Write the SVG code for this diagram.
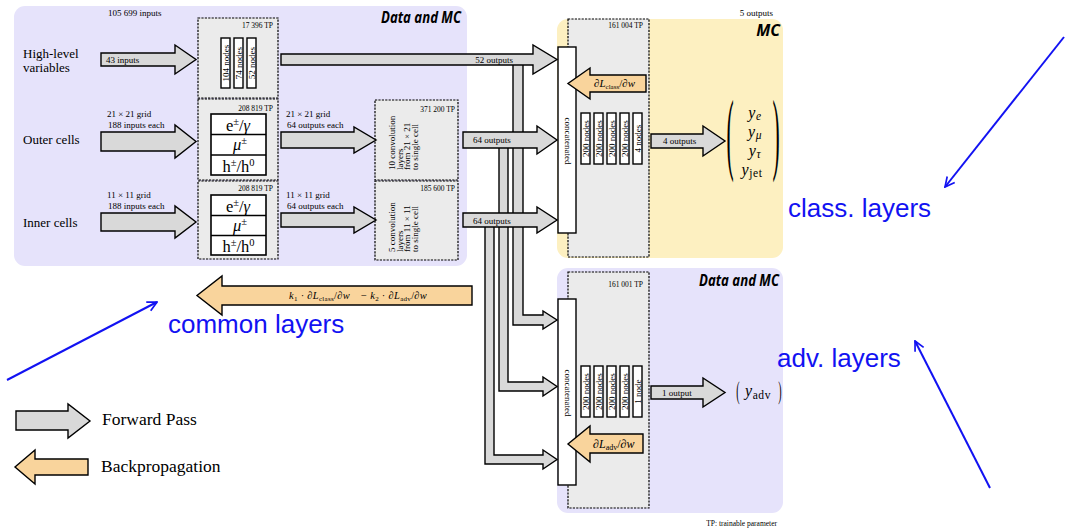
<svg xmlns="http://www.w3.org/2000/svg" width="1065" height="528" viewBox="0 0 1065 528">
<defs>
<style>
.lav{fill:#e6e3fb}
.yel{fill:#fdf0c1}
.box{fill:#ebebeb;stroke:#000;stroke-width:1.2;stroke-dasharray:2.2 1.2}
.fwd{fill:#d9d9d9;stroke:#000;stroke-width:1.4;stroke-linejoin:miter}
.bwd{fill:#f9d49c;stroke:#000;stroke-width:1.4;stroke-linejoin:miter}
.node{fill:#fff;stroke:#000;stroke-width:1.4}
.cell{fill:#fff;stroke:#000;stroke-width:1.6}
text{font-family:"Liberation Serif","DejaVu Serif",serif;fill:#000}
.xs{font-size:7.5px}
.sm{font-size:9px}
.nt{font-size:9px}
.lbl{font-size:13px}
.leg{font-size:17.5px}
.it{font-style:italic}
.cm{font-size:16.5px}
.vec{font-size:16px;letter-spacing:0.6px}
.title{font-family:"Open Sans","DejaVu Sans",sans-serif;font-weight:bold;font-style:italic;font-size:16px}
.note{fill:none;stroke:#1212f2;stroke-width:2}
.notet{font-family:"Liberation Sans",Arial,sans-serif;font-size:26px;fill:#1212f2}
</style>
<marker id="open" viewBox="0 0 10 10" refX="9" refY="5" markerWidth="6" markerHeight="6" orient="auto" markerUnits="strokeWidth">
<path d="M1,1 L9,5 L1,9" fill="none" stroke="#1212f2" stroke-width="1.4"/>
</marker>
</defs>

<rect width="1065" height="528" fill="#fff"/>

<!-- background panels -->
<g id="panel-common">
<rect class="lav" x="14" y="6" width="453" height="260" rx="11"/>
<text class="title" x="461" y="23" text-anchor="end" textLength="80" lengthAdjust="spacingAndGlyphs">Data and MC</text>
<text class="sm" x="108" y="16">105 699 inputs</text>
</g>
<g id="panel-class">
<rect class="yel" x="557" y="19" width="226" height="239" rx="11"/>
<text class="title" x="780" y="36" text-anchor="end">MC</text>
<text class="sm" x="773" y="16" text-anchor="end">5 outputs</text>
</g>
<g id="panel-adv">
<rect class="lav" x="557" y="268" width="226" height="245" rx="11"/>
<text class="title" x="779" y="286" text-anchor="end" textLength="80" lengthAdjust="spacingAndGlyphs">Data and MC</text>
</g>
<text class="xs" x="777" y="526" text-anchor="end">TP: trainable parameter</text>

<!-- input labels -->
<g id="labels">
<text class="lbl" x="23" y="58">High-level</text>
<text class="lbl" x="23" y="72">variables</text>
<text class="lbl" x="23" y="144">Outer cells</text>
<text class="lbl" x="23" y="227">Inner cells</text>
<text class="sm" x="107" y="117">21 × 21 grid</text>
<text class="sm" x="108" y="128">188 inputs each</text>
<text class="sm" x="107" y="198">11 × 11 grid</text>
<text class="sm" x="108" y="209">188 inputs each</text>
<text class="sm" x="286" y="117">21 × 21 grid</text>
<text class="sm" x="287" y="128">64 outputs each</text>
<text class="sm" x="286" y="198">11 × 11 grid</text>
<text class="sm" x="287" y="209">64 outputs each</text>
</g>

<!-- high-level dense block -->
<g id="dense-hl">
<rect class="box" x="198" y="18" width="80" height="80"/>
<text class="xs" x="273" y="28" text-anchor="end">17 396 TP</text>
<rect class="node" x="221" y="38" width="9" height="50"/>
<rect class="node" x="234" y="38" width="9" height="50"/>
<rect class="node" x="247" y="38" width="9" height="50"/>
<text class="nt" transform="translate(228.6,63) rotate(-90)" text-anchor="middle">104 nodes</text>
<text class="nt" transform="translate(241.6,63) rotate(-90)" text-anchor="middle">74 nodes</text>
<text class="nt" transform="translate(254.6,63) rotate(-90)" text-anchor="middle">52 nodes</text>
</g>

<!-- outer cells per-particle dense block -->
<g id="dense-outer">
<rect class="box" x="198" y="99" width="80" height="81"/>
<text class="xs" x="273" y="111" text-anchor="end">208 819 TP</text>
<rect class="cell" x="211" y="114" width="55" height="61"/>
<line x1="211" y1="134.5" x2="266" y2="134.5" stroke="#000" stroke-width="1.6"/>
<line x1="211" y1="155" x2="266" y2="155" stroke="#000" stroke-width="1.6"/>
<text class="cm" x="238" y="130.5" text-anchor="middle">e<tspan font-size="10.5" dy="-6">±</tspan><tspan dy="6">/</tspan><tspan class="it">γ</tspan></text>
<text class="cm" x="240" y="150" text-anchor="middle"><tspan class="it">μ</tspan><tspan font-size="10.5" dy="-6">±</tspan></text>
<text class="cm" x="238.5" y="171.5" text-anchor="middle">h<tspan font-size="10.5" dy="-6">±</tspan><tspan dy="6">/h</tspan><tspan font-size="10.5" dy="-6">0</tspan></text>
</g>

<!-- inner cells per-particle dense block -->
<g id="dense-inner">
<rect class="box" x="198" y="181" width="80" height="78"/>
<text class="xs" x="273" y="191" text-anchor="end">208 819 TP</text>
<rect class="cell" x="211" y="195" width="55" height="60"/>
<line x1="211" y1="215.5" x2="266" y2="215.5" stroke="#000" stroke-width="1.6"/>
<line x1="211" y1="235.5" x2="266" y2="235.5" stroke="#000" stroke-width="1.6"/>
<text class="cm" x="238" y="211.5" text-anchor="middle">e<tspan font-size="10.5" dy="-6">±</tspan><tspan dy="6">/</tspan><tspan class="it">γ</tspan></text>
<text class="cm" x="240" y="231" text-anchor="middle"><tspan class="it">μ</tspan><tspan font-size="10.5" dy="-6">±</tspan></text>
<text class="cm" x="238.5" y="251.5" text-anchor="middle">h<tspan font-size="10.5" dy="-6">±</tspan><tspan dy="6">/h</tspan><tspan font-size="10.5" dy="-6">0</tspan></text>
</g>

<!-- convolution blocks -->
<g id="conv-outer">
<rect class="box" x="375" y="100" width="83" height="80"/>
<text class="xs" x="455" y="112" text-anchor="end">371 200 TP</text>
<text class="sm" transform="translate(395,170) rotate(-90)">10 convolution</text>
<text class="sm" transform="translate(402.5,170) rotate(-90)">layers</text>
<text class="sm" transform="translate(410,170) rotate(-90)">from  21 × 21</text>
<text class="sm" transform="translate(417.5,170) rotate(-90)">to single cell</text>
</g>
<g id="conv-inner">
<rect class="box" x="375" y="181" width="83" height="79"/>
<text class="xs" x="455" y="191" text-anchor="end">185 600 TP</text>
<text class="sm" transform="translate(395,252) rotate(-90)">5 convolution</text>
<text class="sm" transform="translate(402.5,252) rotate(-90)">layers</text>
<text class="sm" transform="translate(410,252) rotate(-90)">from  11 × 11</text>
<text class="sm" transform="translate(417.5,252) rotate(-90)">to single cell</text>
</g>

<!-- classifier head -->
<g id="class-net">
<rect class="box" x="568" y="19" width="81" height="238"/>
<text class="xs" x="643" y="28" text-anchor="end">161 004 TP</text>
<rect class="node" x="558" y="47" width="18" height="186"/>
<text class="nt" transform="translate(564.5,141) rotate(90)" text-anchor="middle">concatenated</text>
<rect class="node" x="581" y="113" width="9" height="51"/>
<rect class="node" x="594" y="113" width="9" height="51"/>
<rect class="node" x="607" y="113" width="9" height="51"/>
<rect class="node" x="620" y="113" width="9" height="51"/>
<rect class="node" x="633" y="113" width="9" height="51"/>
<text class="nt" transform="translate(588.6,138.5) rotate(-90)" text-anchor="middle">200 nodes</text>
<text class="nt" transform="translate(601.6,138.5) rotate(-90)" text-anchor="middle">200 nodes</text>
<text class="nt" transform="translate(614.6,138.5) rotate(-90)" text-anchor="middle">200 nodes</text>
<text class="nt" transform="translate(627.6,138.5) rotate(-90)" text-anchor="middle">200 nodes</text>
<text class="nt" transform="translate(640.6,138.5) rotate(-90)" text-anchor="middle">4 nodes</text>
</g>

<!-- adversary head -->
<g id="adv-net">
<rect class="box" x="568" y="272" width="81" height="236"/>
<text class="xs" x="643" y="287" text-anchor="end">161 001 TP</text>
<rect class="node" x="558" y="299" width="18" height="186"/>
<text class="nt" transform="translate(564.5,393) rotate(90)" text-anchor="middle">concatenated</text>
<rect class="node" x="581" y="366" width="9" height="51"/>
<rect class="node" x="594" y="366" width="9" height="51"/>
<rect class="node" x="607" y="366" width="9" height="51"/>
<rect class="node" x="620" y="366" width="9" height="51"/>
<rect class="node" x="633" y="366" width="9" height="51"/>
<text class="nt" transform="translate(588.6,391.5) rotate(-90)" text-anchor="middle">200 nodes</text>
<text class="nt" transform="translate(601.6,391.5) rotate(-90)" text-anchor="middle">200 nodes</text>
<text class="nt" transform="translate(614.6,391.5) rotate(-90)" text-anchor="middle">200 nodes</text>
<text class="nt" transform="translate(627.6,391.5) rotate(-90)" text-anchor="middle">200 nodes</text>
<text class="nt" transform="translate(640.6,391.5) rotate(-90)" text-anchor="middle">1 node</text>
</g>

<!-- outputs -->
<g id="class-output">
<text transform="translate(730,163) scale(0.24,1)" text-anchor="middle" font-size="90">(</text>
<text transform="translate(776,163) scale(0.24,1)" text-anchor="middle" font-size="90">)</text>
<text class="vec" x="755" y="118" text-anchor="middle"><tspan class="it">y</tspan><tspan class="it" font-size="11.5" dy="2">e</tspan></text>
<text class="vec" x="755" y="137" text-anchor="middle"><tspan class="it">y</tspan><tspan class="it" font-size="11.5" dy="2">μ</tspan></text>
<text class="vec" x="755" y="156" text-anchor="middle"><tspan class="it">y</tspan><tspan class="it" font-size="11.5" dy="2">τ</tspan></text>
<text class="vec" x="752" y="175" text-anchor="middle"><tspan class="it">y</tspan><tspan font-size="11.5" dy="2">jet</tspan></text>
</g>
<g id="adv-output">
<text transform="translate(738,399) scale(0.4,1)" text-anchor="middle" font-size="25">(</text>
<text transform="translate(780,399) scale(0.4,1)" text-anchor="middle" font-size="25">)</text>
<text class="vec" x="758" y="396" text-anchor="middle"><tspan class="it">y</tspan><tspan font-size="11.5" dy="3">adv</tspan></text>
</g>

<!-- forward connectors -->
<g id="connectors">
<!-- branches feeding the adversary -->
<path class="fwd" d="M513,62 L513,325 L543,325 L543,329 L557,320 L543,311 L543,315 L523,315 L523,62 Z"/>
<path class="fwd" d="M499,145 L499,391 L543,391 L543,396 L557,386.5 L543,377 L543,382 L508,382 L508,145 Z"/>
<path class="fwd" d="M485,225 L485,464 L543,464 L543,469 L557,459.5 L543,450 L543,455 L494,455 L494,225 Z"/>

<path class="fwd" d="M101,53 L175,53 L175,45 L196,59.5 L175,74 L175,66 L101,66 Z"/>
<text class="sm" x="106" y="62.5">43 inputs</text>
<path class="fwd" d="M101,132 L175,132 L175,125 L196,141.5 L175,158 L175,151 L101,151 Z"/>
<path class="fwd" d="M101,213 L175,213 L175,206 L196,222 L175,238 L175,231 L101,231 Z"/>

<path class="fwd" d="M281,132 L354,132 L354,127 L376,140 L354,153 L354,148 L281,148 Z"/>
<path class="fwd" d="M281,213 L354,213 L354,207 L376,220 L354,233 L354,227 L281,227 Z"/>

<path class="fwd" d="M281,54 L533,54 L533,45 L557,59.5 L533,74 L533,65 L281,65 Z"/>
<text class="sm" x="513" y="62.5" text-anchor="end">52 outputs</text>
<path class="fwd" d="M463,132 L537,132 L537,126 L557,140 L537,154 L537,148 L463,148 Z"/>
<text class="sm" x="473" y="143">64 outputs</text>
<path class="fwd" d="M463,213 L537,213 L537,207 L557,220 L537,233 L537,227 L463,227 Z"/>
<text class="sm" x="473" y="223.5">64 outputs</text>

<path class="fwd" d="M651,134 L703,134 L703,126 L725,141 L703,156 L703,148 L651,148 Z"/>
<text class="sm" x="663" y="144">4 outputs</text>
<path class="fwd" d="M651,386 L703,386 L703,378 L725,392.5 L703,407 L703,399 L651,399 Z"/>
<text class="sm" x="662" y="395.5">1 output</text>
</g>

<!-- backpropagation -->
<g id="backprop">
<path class="bwd" d="M646,75 L590,75 L590,68 L568,83.5 L590,99 L590,92 L646,92 Z"/>
<text x="594" y="87" font-size="11"><tspan>∂</tspan><tspan class="it">L</tspan><tspan font-size="7" dy="2">class</tspan><tspan dy="-2">/∂</tspan><tspan class="it">w⃗</tspan></text>
<path class="bwd" d="M643,434 L590,434 L590,426 L568,444 L590,462 L590,453 L643,453 Z"/>
<text x="593" y="447.5" font-size="12"><tspan>∂</tspan><tspan class="it">L</tspan><tspan font-size="8" dy="2">adv</tspan><tspan dy="-2">/∂</tspan><tspan class="it">w⃗</tspan></text>
<path class="bwd" d="M472,286 L222,286 L222,276 L197,295.5 L222,315 L222,305 L472,305 Z"/>
<text x="289" y="299" font-size="10.5" textLength="146"><tspan class="it">k</tspan><tspan font-size="7" dy="1.5">1</tspan><tspan dy="-1.5"> · ∂</tspan><tspan class="it">L</tspan><tspan font-size="7" dy="1.5">class</tspan><tspan dy="-1.5">/∂</tspan><tspan class="it">w⃗</tspan><tspan> − </tspan><tspan class="it">k</tspan><tspan font-size="7" dy="1.5">2</tspan><tspan dy="-1.5"> · ∂</tspan><tspan class="it">L</tspan><tspan font-size="7" dy="1.5">adv</tspan><tspan dy="-1.5">/∂</tspan><tspan class="it">w⃗</tspan></text>
</g>

<!-- legend -->
<g id="legend">
<path class="fwd" d="M16,411 L68,411 L68,404 L90,421 L68,438 L68,430 L16,430 Z"/>
<text class="leg" x="102" y="425">Forward Pass</text>
<path class="bwd" d="M88,459 L35,459 L35,450 L15,467 L35,484 L35,475 L88,475 Z"/>
<text class="leg" x="101" y="472">Backpropagation</text>
</g>

<!-- annotations -->
<g id="annotations">
<line class="note" x1="7" y1="380" x2="157" y2="302" marker-end="url(#open)"/>
<text class="notet" x="168" y="333">common layers</text>
<line class="note" x1="1064" y1="37" x2="945" y2="187" marker-end="url(#open)"/>
<text class="notet" x="788" y="217">class. layers</text>
<line class="note" x1="990" y1="488" x2="915" y2="341" marker-end="url(#open)"/>
<text class="notet" x="777" y="367">adv. layers</text>
</g>
</svg>
